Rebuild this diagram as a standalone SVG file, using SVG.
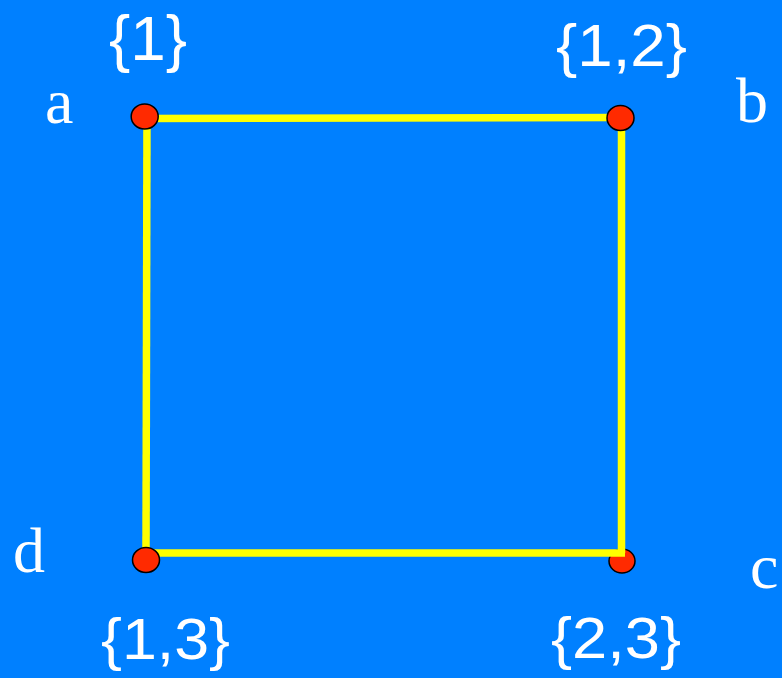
<svg xmlns="http://www.w3.org/2000/svg" width="782" height="678" viewBox="0 0 782 678">
<style>
.set{font-family:"Liberation Sans",Arial,sans-serif;fill:#fff;}
.lbl{font-family:"Liberation Serif","Times New Roman",serif;fill:#fff;font-size:64px;}
.edge{stroke:#ffff00;stroke-width:7.5;fill:none;}
.node{fill:#ff2a00;stroke:#000;stroke-width:1.5;}
</style>
<rect width="782" height="678" fill="#0080ff"/>
<g id="node-c">
<ellipse class="node" cx="622" cy="561" rx="13" ry="12"/>
<text class="lbl" x="750" y="588">c</text>
<text class="set" x="551" y="658" font-size="58" textLength="130" lengthAdjust="spacingAndGlyphs">{2,3}</text>
</g>
<g id="connectors">
<line class="edge" x1="145" y1="118.5" x2="621" y2="117.5"/>
<line class="edge" x1="621.5" y1="118" x2="621.5" y2="553"/>
<line class="edge" x1="146" y1="553" x2="625" y2="553"/>
<line class="edge" x1="147" y1="118" x2="146" y2="553"/>
</g>
<g id="node-a">
<ellipse class="node" cx="144.7" cy="116.5" rx="13.5" ry="12.5"/>
<text class="lbl" x="45" y="123">a</text>
<text class="set" x="109" y="60" font-size="63" textLength="78" lengthAdjust="spacingAndGlyphs">{1}</text>
</g>
<g id="node-b">
<ellipse class="node" cx="620.5" cy="118" rx="13.5" ry="12.5"/>
<text class="lbl" x="736" y="122">b</text>
<text class="set" x="556" y="66" font-size="60" textLength="131" lengthAdjust="spacingAndGlyphs">{1,2}</text>
</g>
<g id="node-d">
<ellipse class="node" cx="146" cy="560" rx="13.5" ry="12.5"/>
<text class="lbl" x="13" y="572">d</text>
<text class="set" x="101" y="659" font-size="58" textLength="129" lengthAdjust="spacingAndGlyphs">{1,3}</text>
</g>
</svg>
